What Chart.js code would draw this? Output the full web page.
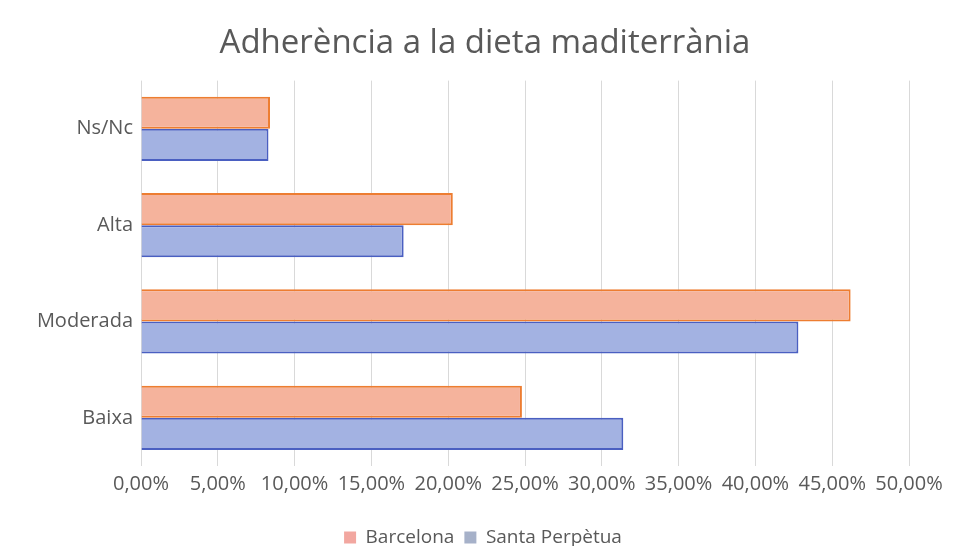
<!DOCTYPE html>
<html lang="ca">
<head>
    <meta charset="UTF-8">
    <title>Adherència a la dieta mediterrània</title>
    <style>
        html, body { margin: 0; padding: 0; background: #ffffff; }
        .chart-container { position: relative; width: 959px; height: 546px; }
    </style>
</head>
<body>
    <div class="chart-container">
        <canvas id="myChart"></canvas>
    </div>

    <script src="https://cdn.jsdelivr.net/npm/chart.js"></script>
    <script>
        var categories = ['Ns/Nc', 'Alta', 'Moderada', 'Baixa'];
        var barcelona = [8.4, 20.3, 46.2, 24.8];
        var santaPerpetua = [8.3, 17.1, 42.8, 31.4];
        var seriesNames = ['Barcelona', 'Santa Perpètua'];
        var xTicksMax = 50;
        var xTicksStep = 5;

        var fontFamily = "'Open Sans', 'Liberation Sans', sans-serif";
        var textColor = '#595959';

        function pct(v) {
            return v.toFixed(2).replace('.', ',') + '%';
        }

        // title and legend sit a bit right of the plot centre in the original
        var shiftBlocks = {
            id: 'shiftBlocks',
            afterLayout: function (chart) {
                if (chart.titleBlock) {
                    chart.titleBlock.left += 14;
                    chart.titleBlock.right += 14;
                }
                if (chart.legend) {
                    chart.legend.left += 12;
                    chart.legend.right += 12;
                }
            }
        };

        var ctx = document.getElementById('myChart').getContext('2d');
        var myChart = new Chart(ctx, {
            type: 'bar',
            data: {
                labels: categories,
                datasets: [{
                    label: seriesNames[0],
                    data: barcelona,
                    backgroundColor: '#f5b39c',
                    borderColor: '#ed7d31',
                    borderWidth: 2,
                    legendColor: '#f2a7a0'
                }, {
                    label: seriesNames[1],
                    data: santaPerpetua,
                    backgroundColor: '#a3b2e2',
                    borderColor: '#4a5fc1',
                    borderWidth: 2,
                    legendColor: '#a6b1c9'
                }]
            },
            plugins: [shiftBlocks],
            options: {
                indexAxis: 'y',
                responsive: true,
                maintainAspectRatio: false,
                animation: false,
                datasets: {
                    bar: {
                        categoryPercentage: 0.667,
                        barPercentage: 1.0
                    }
                },
                layout: {
                    padding: { left: 33, right: 50, top: 0, bottom: -11 }
                },
                plugins: {
                    title: {
                        display: true,
                        text: 'Adherència a la dieta maditerrània',
                        color: textColor,
                        font: { family: fontFamily, size: 33, weight: 'normal' },
                        padding: { top: 24, bottom: 17 }
                    },
                    legend: {
                        position: 'bottom',
                        labels: {
                            color: textColor,
                            font: { family: fontFamily, size: 19 },
                            boxWidth: 12,
                            boxHeight: 12,
                            padding: 10,
                            generateLabels: function (chart) {
                                return chart.data.datasets.map(function (ds, i) {
                                    return {
                                        text: ds.label,
                                        fillStyle: ds.legendColor,
                                        strokeStyle: ds.legendColor,
                                        lineWidth: 0,
                                        fontColor: textColor,
                                        hidden: false,
                                        datasetIndex: i
                                    };
                                });
                            }
                        }
                    },
                    tooltip: { enabled: false }
                },
                scales: {
                    x: {
                        min: 0,
                        max: xTicksMax,
                        ticks: {
                            stepSize: xTicksStep,
                            color: textColor,
                            font: { family: fontFamily, size: 20 },
                            padding: 6,
                            maxRotation: 0,
                            autoSkip: false,
                            callback: function (v) { return pct(v); }
                        },
                        grid: {
                            color: '#d9d9d9',
                            drawTicks: false
                        },
                        border: { display: false },
                        afterFit: function (scale) { scale.height += 16; }
                    },
                    y: {
                        ticks: {
                            color: textColor,
                            font: { family: fontFamily, size: 20 },
                            padding: 8
                        },
                        grid: { display: false, drawTicks: false },
                        border: { display: false },
                        afterFit: function (scale) { scale.width = 108; }
                    }
                }
            }
        });
    </script>
</body>
</html>
